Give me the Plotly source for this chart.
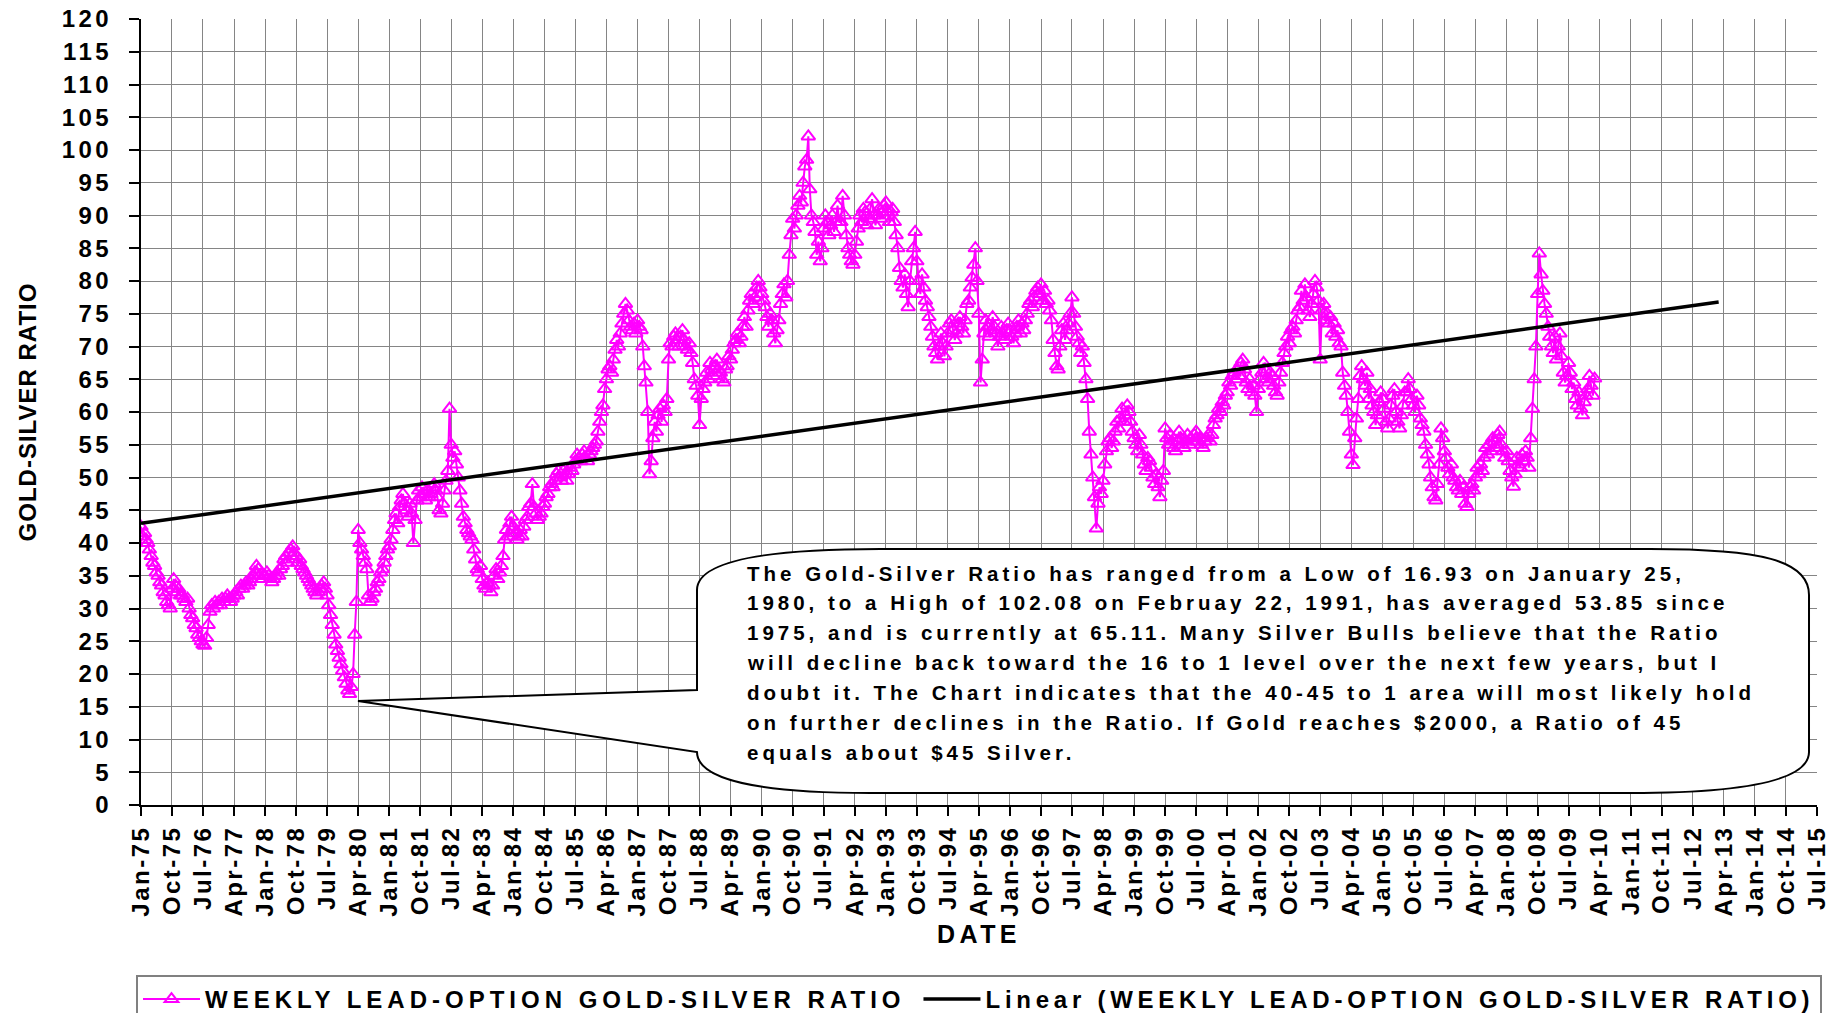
import plotly.graph_objects as go
import pandas as pd

FONT = "Liberation Sans, Arial, Helvetica, sans-serif"
MAGENTA = "#FF00FF"
GRID = "#858585"

# ---------------- data ----------------
series_name = "WEEKLY LEAD-OPTION GOLD-SILVER RATIO"
trend_name = "Linear (WEEKLY LEAD-OPTION GOLD-SILVER RATIO)"

first_month = "1975-01"   # two readings per month (1st & 16th)
ratio_values = [
    # 1975
    42.5, 41.0, 41.5, 40.5, 40.0, 39.0, 38.0, 37.0, 36.5, 35.5, 35.0, 34.0,
    33.5, 32.5, 32.0, 31.0, 30.5, 30.0, 33.0, 34.5, 33.5, 32.5, 33.0, 32.0,
    # 1976
    32.0, 31.5, 31.0, 31.5, 30.0, 29.0, 28.5, 27.5, 27.0, 26.0, 25.5, 25.0,
    24.5, 24.3, 25.5, 27.5, 29.5, 30.5, 30.0, 31.0, 30.5, 31.0, 30.5, 31.5,
    # 1977
    31.0, 31.5, 32.0, 31.5, 31.0, 31.5, 32.0, 32.5, 32.0, 33.0, 33.5, 33.0,
    33.5, 34.0, 33.5, 34.0, 34.5, 35.0, 35.5, 36.5, 36.0, 35.0, 34.5, 35.0,
    # 1978
    35.0, 35.5, 35.0, 34.5, 34.0, 34.5, 35.0, 35.5, 35.0, 36.0, 36.5, 37.5,
    38.0, 37.0, 38.5, 39.0, 39.5, 38.5, 38.0, 37.0, 37.5, 36.5, 36.0, 35.5,
    # 1979
    35.0, 34.5, 34.0, 33.5, 33.0, 32.5, 32.0, 32.5, 33.0, 33.5, 34.0, 33.0,
    32.0, 30.5, 29.0, 27.5, 26.0, 24.5, 23.5, 22.5, 21.5, 20.5, 19.5, 18.5,
    # 1980
    17.5, 16.93, 18.0, 20.0, 26.0, 31.0, 42.0, 40.0, 39.0, 38.0, 37.0, 36.0,
    32.0, 31.0, 31.5, 32.5, 33.0, 34.0, 34.5, 35.5, 36.0, 37.0, 38.0, 39.0,
    # 1981
    39.5, 40.5, 42.0, 43.5, 44.5, 43.0, 45.5, 46.5, 47.5, 46.0, 45.0, 44.0,
    46.0, 44.5, 40.0, 43.5, 46.5, 48.0, 47.0, 48.5, 47.5, 46.5, 48.0, 47.0,
    # 1982
    47.5, 48.5, 49.0, 48.0, 47.0, 45.0, 44.5, 46.0, 48.0, 49.5, 51.0, 60.5,
    55.0, 53.0, 54.0, 52.0, 50.0, 48.0, 46.0, 44.0, 43.0, 42.0, 41.5, 41.0,
    # 1983
    40.5, 39.0, 37.5, 36.0, 35.5, 36.5, 34.5, 33.5, 33.0, 34.0, 33.5, 32.5,
    33.5, 35.0, 36.0, 34.5, 35.5, 36.5, 38.0, 40.5, 42.0, 41.0, 43.0, 44.0,
    # 1984
    42.5, 41.5, 40.5, 41.0, 42.0, 41.0, 42.5, 43.5, 44.0, 45.5, 46.0, 49.0,
    45.5, 44.5, 43.5, 44.0, 44.5, 45.5, 46.0, 47.0, 47.5, 48.5, 49.0, 48.5,
    # 1985
    49.5, 50.5, 51.0, 50.0, 49.5, 51.0, 50.5, 49.5, 50.5, 51.5, 51.0, 52.0,
    52.5, 53.5, 53.0, 52.5, 53.5, 54.0, 53.0, 52.5, 53.5, 54.0, 54.5, 55.0,
    # 1986
    55.5, 57.0, 58.5, 60.0, 61.0, 63.5, 65.0, 66.5, 67.0, 66.0, 68.0, 69.5,
    71.0, 70.0, 72.0, 73.5, 75.0, 76.5, 75.5, 74.0, 73.0, 72.5, 73.5, 72.0,
    # 1987
    74.0, 73.0, 72.5, 70.0, 67.0, 64.5, 60.0, 50.5, 52.5, 56.0, 58.5, 57.0,
    59.5, 60.5, 58.5, 61.0, 60.0, 62.0, 68.0, 70.5, 70.0, 71.5, 72.0, 71.0,
    # 1988
    70.0, 71.5, 72.5, 71.0, 70.0, 69.5, 70.5, 69.0, 67.5, 65.0, 64.0, 62.5,
    58.0, 62.0, 63.5, 64.5, 66.0, 65.0, 67.5, 66.5, 65.5, 67.0, 68.0, 66.5,
    # 1989
    66.0, 65.0, 64.5, 66.5, 67.0, 68.5, 68.0, 69.5, 70.5, 71.0, 72.0, 70.5,
    71.5, 73.0, 74.5, 73.0, 75.5, 77.0, 78.0, 76.5, 77.5, 79.0, 80.0, 79.0,
    # 1990
    78.0, 77.0, 76.0, 74.5, 73.0, 75.0, 74.0, 72.0, 70.5, 72.5, 74.0, 76.5,
    78.0, 79.5, 77.5, 80.0, 84.0, 87.0, 89.5, 88.0, 90.0, 91.5, 93.0, 92.0,
    # 1991
    95.0, 97.5, 98.5, 102.08, 94.0, 90.0, 89.0, 87.5, 84.0, 86.0, 83.0, 85.0,
    88.0, 90.0, 89.0, 87.0, 88.5, 90.0, 87.5, 89.0, 91.5, 89.0, 89.0, 93.0,
    # 1992
    90.0, 87.0, 85.0, 84.0, 83.0, 82.5, 84.0, 86.0, 88.0, 90.0, 89.0, 91.0,
    90.5, 88.5, 89.5, 91.0, 92.5, 90.0, 88.5, 90.0, 91.0, 89.5, 90.5, 91.5,
    # 1993
    92.0, 90.5, 89.0, 90.5, 91.0, 89.0, 87.0, 85.0, 82.0, 80.0, 79.0, 81.0,
    78.0, 76.0, 80.0, 83.0, 85.0, 87.5, 83.0, 80.0, 78.0, 81.0, 79.0, 77.0,
    # 1994
    76.0, 74.5, 73.0, 71.5, 70.0, 69.0, 68.0, 70.0, 72.0, 70.5, 68.5, 70.0,
    72.0, 73.5, 74.0, 72.5, 71.0, 72.0, 73.5, 74.5, 73.0, 72.0, 74.0, 76.5,
    # 1995
    77.0, 79.0, 80.5, 82.5, 85.0, 80.0, 75.0, 64.5, 68.0, 72.0, 74.0, 73.0,
    71.5, 72.5, 74.5, 73.0, 72.0, 70.0, 71.5, 73.0, 72.0, 71.0, 72.5, 73.5,
    # 1996
    72.5, 71.5, 70.5, 72.0, 73.0, 74.0, 72.0, 73.5, 72.5, 74.0, 75.0, 76.5,
    77.0, 76.0, 77.5, 78.5, 79.0, 78.0, 79.5, 77.0, 78.5, 76.5, 77.0, 75.5,
    # 1997
    74.0, 71.0, 69.0, 67.0, 66.5, 70.0, 72.5, 73.5, 71.0, 72.5, 73.5, 75.0,
    77.5, 75.0, 73.0, 71.5, 70.5, 69.0, 70.0, 67.5, 65.0, 62.0, 57.0, 53.5,
    # 1998
    50.0, 47.0, 42.2, 46.0, 48.5, 47.5, 49.5, 52.0, 54.0, 55.5, 56.0, 54.5,
    55.5, 57.0, 58.5, 57.5, 59.0, 60.5, 58.5, 59.5, 61.0, 60.0, 58.5, 57.0,
    # 1999
    56.0, 55.0, 54.0, 56.5, 55.0, 53.5, 52.0, 51.0, 53.0, 52.5, 51.5, 50.0,
    49.0, 50.5, 48.5, 47.0, 49.5, 51.0, 57.5, 56.0, 55.0, 56.5, 55.5, 54.5,
    # 2000
    54.0, 55.5, 57.0, 56.0, 55.0, 54.5, 55.5, 56.5, 55.0, 56.0, 55.5, 56.5,
    57.0, 55.5, 56.0, 55.0, 54.5, 55.5, 56.0, 56.5, 55.5, 56.5, 58.0, 59.0,
    # 2001
    59.5, 60.5, 60.0, 61.5, 61.0, 62.5, 63.0, 64.5, 64.0, 65.5, 66.0, 65.0,
    66.5, 65.5, 67.5, 68.0, 66.5, 64.5, 63.5, 65.0, 63.0, 64.0, 62.5, 60.0,
    # 2002
    63.5, 65.0, 66.0, 67.5, 66.5, 65.0, 64.5, 66.0, 65.5, 64.0, 63.0, 62.5,
    64.5, 66.0, 67.5, 69.0, 70.0, 71.5, 70.5, 72.5, 73.0, 72.0, 74.0, 75.5,
    # 2003
    76.0, 78.5, 77.0, 79.5, 77.5, 75.5, 74.5, 76.5, 78.0, 80.0, 79.0, 77.0,
    68.0, 75.5, 76.5, 74.0, 75.0, 73.5, 74.5, 72.0, 73.5, 71.5, 72.5, 70.5,
    # 2004
    70.0, 66.0, 64.0, 62.5, 60.0, 57.0, 53.5, 51.9, 56.0, 59.0, 62.0, 65.5,
    67.0, 65.0, 64.0, 66.0, 62.0, 63.5, 61.0, 60.0, 58.0, 59.5, 61.5, 63.0,
    # 2005
    62.0, 60.5, 58.5, 57.5, 59.0, 61.0, 62.5, 63.5, 60.0, 58.5, 57.5, 59.5,
    61.0, 63.0, 63.0, 65.0, 63.5, 62.0, 61.0, 60.0, 62.5, 61.0, 59.0, 58.0,
    # 2006
    57.0, 55.0, 53.5, 52.0, 50.0, 48.5, 47.0, 46.5, 49.0, 52.0, 57.5, 56.0,
    54.0, 53.0, 51.5, 50.5, 52.0, 50.0, 49.5, 48.5, 48.0, 49.5, 47.5, 48.5,
    # 2007
    46.0, 45.5, 47.5, 48.5, 49.0, 48.0, 50.0, 51.5, 50.5, 52.0, 51.0, 53.0,
    54.5, 53.5, 55.0, 54.0, 56.0, 55.5, 54.5, 56.5, 57.0, 55.0, 54.0, 53.0,
    # 2008
    54.0, 52.5, 51.0, 50.0, 48.6, 50.5, 53.0, 52.0, 51.5, 53.5, 52.5, 54.0,
    53.0, 51.5, 56.0, 60.5, 65.0, 70.0, 78.0, 84.2, 81.0, 78.5, 76.5, 75.0,
    # 2009
    73.0, 71.5, 70.0, 69.0, 71.5, 68.0, 70.0, 72.0, 68.5, 66.0, 64.5, 65.5,
    67.5, 66.0, 63.5, 64.5, 62.0, 61.0, 63.0, 60.5, 59.5, 61.5, 62.5, 63.5,
    # 2010
    65.5, 64.0, 62.5, 65.11,
]

trend_dates = ["1975-01-01", "2013-02-15"]
trend_values = [43.0, 76.8]

tick_labels = ["Jan-75", "Oct-75", "Jul-76", "Apr-77", "Jan-78", "Oct-78", "Jul-79", "Apr-80",
               "Jan-81", "Oct-81", "Jul-82", "Apr-83", "Jan-84", "Oct-84", "Jul-85", "Apr-86",
               "Jan-87", "Oct-87", "Jul-88", "Apr-89", "Jan-90", "Oct-90", "Jul-91", "Apr-92",
               "Jan-93", "Oct-93", "Jul-94", "Apr-95", "Jan-96", "Oct-96", "Jul-97", "Apr-98",
               "Jan-99", "Oct-99", "Jul-00", "Apr-01", "Jan-02", "Oct-02", "Jul-03", "Apr-04",
               "Jan-05", "Oct-05", "Jul-06", "Apr-07", "Jan-08", "Oct-08", "Jul-09", "Apr-10",
               "Jan-11", "Oct-11", "Jul-12", "Apr-13", "Jan-14", "Oct-14", "Jul-15"]

y_tick_values = [0, 5, 10, 15, 20, 25, 30, 35, 40, 45, 50, 55, 60,
                 65, 70, 75, 80, 85, 90, 95, 100, 105, 110, 115, 120]

callout_lines = [
    "The Gold-Silver Ratio has ranged from a Low of 16.93 on January 25,",
    "1980, to a High of 102.08 on Februay 22, 1991, has averaged 53.85 since",
    "1975, and is currently at 65.11. Many Silver Bulls believe that the Ratio",
    "will decline back toward the 16 to 1 level over the next few years, but I",
    "doubt it. The Chart indicates that the 40-45 to 1 area will most likely hold",
    "on further declines in the Ratio. If Gold reaches $2000, a Ratio of 45",
    "equals about $45 Silver.",
]

# observation dates: 1st and 16th of each month
months = pd.period_range(first_month, periods=(len(ratio_values) + 1) // 2, freq="M")
obs_dates = []
for m in months:
    obs_dates.append(m.to_timestamp())
    obs_dates.append(m.to_timestamp() + pd.Timedelta(days=15))
obs_dates = obs_dates[:len(ratio_values)]

tick_dates = pd.to_datetime(tick_labels, format="%b-%y")

# ---------------- layout helpers (pixel -> paper) ----------------
W, H = 1826, 1013
L, R, T, B = 141, 1817, 19, 805


def px(x):
    return (x - L) / (R - L)


def py(y):
    return (B - y) / (B - T)


def P(x, y):
    return f"{px(x):.5f},{py(y):.5f}"


def spaced(text, ls):
    return f'<span style="letter-spacing:{ls}px">{text}</span>'


def spaced_tail(text, ls, tail):
    # letter-spaced text whose last glyph carries extra trailing space
    return (f'<span style="letter-spacing:{ls}px">{text[:-1]}</span>'
            f'<span style="letter-spacing:{tail}px">{text[-1]}</span>')


fig = go.Figure()

fig.add_trace(go.Scatter(
    x=obs_dates, y=ratio_values, mode="lines+markers",
    name=spaced_tail(series_name, 5.0, 13),
    line=dict(color=MAGENTA, width=2),
    marker=dict(symbol="triangle-up-open", size=12, color=MAGENTA,
                line=dict(color=MAGENTA, width=2)),
))

fig.add_trace(go.Scatter(
    x=pd.to_datetime(trend_dates), y=trend_values, mode="lines",
    name=spaced(trend_name, 4.75),
    line=dict(color="black", width=3.5),
))

# callout bubble
bubble = ("M" + P(697, 590)
          + " C" + P(697, 560) + " " + P(770, 549) + " " + P(880, 549)
          + " L" + P(1650, 549)
          + " C" + P(1760, 549) + " " + P(1809, 560) + " " + P(1809, 595)
          + " L" + P(1809, 752)
          + " C" + P(1809, 785) + " " + P(1720, 793) + " " + P(1630, 793)
          + " L" + P(870, 793)
          + " C" + P(760, 793) + " " + P(697, 780) + " " + P(697, 752)
          + " L" + P(358, 701)
          + " L" + P(697, 690) + " Z")
fig.add_shape(type="path", path=bubble, xref="paper", yref="paper",
              fillcolor="white", line=dict(color="black", width=2), layer="above")

for i, line in enumerate(callout_lines):
    fig.add_annotation(
        x=px(745), y=py(573 + i * 29.9), xref="paper", yref="paper",
        xanchor="left", yanchor="middle", showarrow=False, align="left",
        text=spaced(line, 4.0),
        font=dict(family=FONT, size=20.5, color="black", weight="bold"),
    )

axis_font = dict(family=FONT, size=24, color="black", weight="bold")

fig.update_layout(
    width=W, height=H,
    margin=dict(l=L, r=W - R, t=T, b=H - B, autoexpand=False),
    paper_bgcolor="white", plot_bgcolor="white",
    font=dict(family=FONT, color="black"),
    showlegend=True,
    legend=dict(orientation="h", x=px(136), xanchor="left", y=py(975), yanchor="top",
                bordercolor="#808080", borderwidth=2, bgcolor="white",
                font=dict(family=FONT, size=24, color="black", weight="bold"),
                itemwidth=57, tracegroupgap=0),
    xaxis=dict(
        type="date", range=["1975-01-01", "2015-07-03"],
        tickmode="array", tickvals=tick_dates,
        ticktext=[spaced(t, 2.5) for t in tick_labels],
        tickangle=-90, tickfont=axis_font, ticklabelstandoff=0,
        ticklabeloverflow="allow",
        ticks="outside", ticklen=9, tickwidth=1.5, tickcolor="black",
        showgrid=True, gridcolor=GRID, gridwidth=1,
        showline=True, linecolor="black", linewidth=2,
        zeroline=False, automargin=False,
        title=dict(text=spaced("DATE", 4.4),
                   font=dict(family=FONT, size=25, color="black", weight="bold"),
                   standoff=10),
    ),
    yaxis=dict(
        range=[0, 120], tickmode="array", tickvals=y_tick_values,
        ticktext=[spaced(str(v), 3.5) for v in y_tick_values],
        tickfont=axis_font, ticklabelstandoff=12,
        ticks="outside", ticklen=10, tickwidth=1.5, tickcolor="black",
        showgrid=True, gridcolor=GRID, gridwidth=1,
        showline=True, linecolor="black", linewidth=2,
        zeroline=False, automargin=False,
        title=dict(text=spaced("GOLD-SILVER RATIO", 1),
                   font=dict(family=FONT, size=24, color="black", weight="bold"),
                   standoff=18),
    ),
)

fig.write_html("out.html", config={"displayModeBar": False},
               post_script="document.body.style.margin='0';document.body.style.overflow='hidden';")
